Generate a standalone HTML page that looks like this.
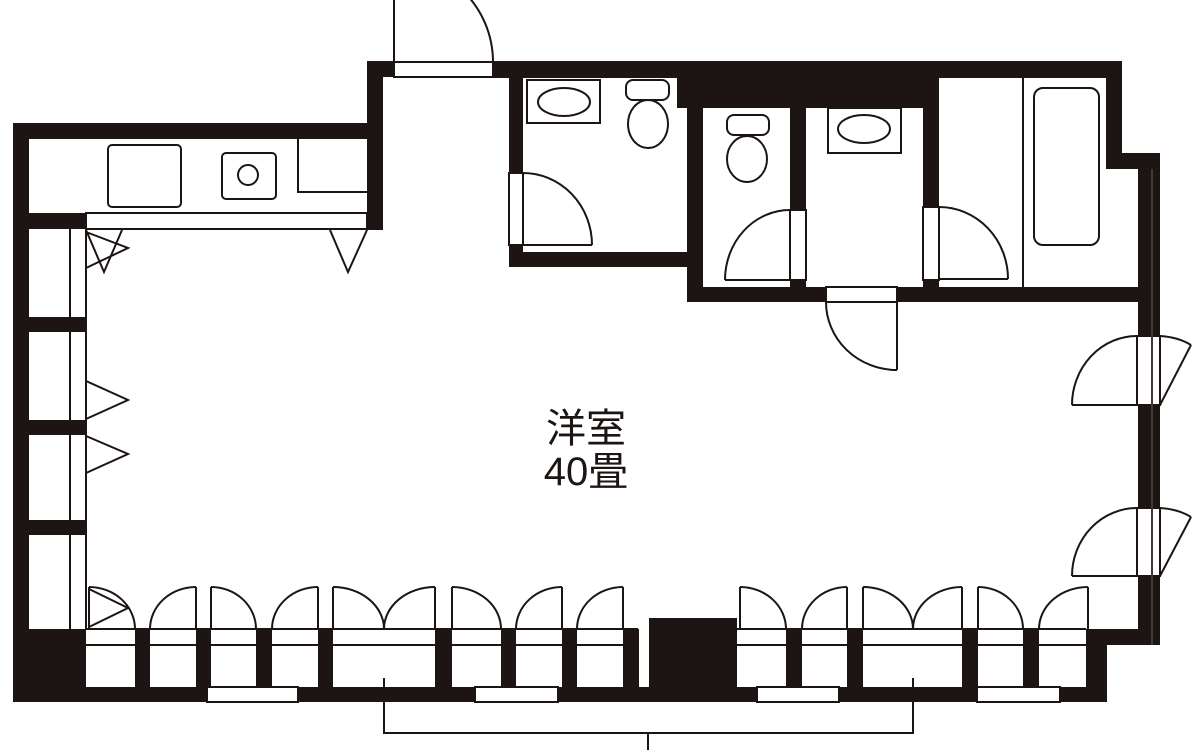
<!DOCTYPE html>
<html><head><meta charset="utf-8"><style>
html,body{margin:0;padding:0;background:#fff;width:1200px;height:750px;overflow:hidden}
</style></head><body>
<svg width="1200" height="750" viewBox="0 0 1200 750" xmlns="http://www.w3.org/2000/svg">
<g fill="#1c1513">
<rect x="13" y="123" width="16" height="579"/>
<rect x="13" y="123" width="370" height="16"/>
<rect x="367" y="61" width="16" height="169"/>
<rect x="367" y="61" width="28" height="16"/>
<rect x="493" y="61" width="629" height="17"/>
<rect x="677" y="61" width="262" height="47"/>
<rect x="509" y="61" width="14" height="206"/>
<rect x="687" y="61" width="16" height="241"/>
<rect x="509" y="252" width="194" height="15"/>
<rect x="790" y="108" width="16" height="194"/>
<rect x="923" y="108" width="16" height="194"/>
<rect x="687" y="287" width="451" height="15"/>
<rect x="1106" y="61" width="16" height="108"/>
<rect x="1106" y="153" width="54" height="16"/>
<rect x="1138" y="153" width="22" height="492"/>
<rect x="1086" y="629" width="74" height="16"/>
<rect x="1086" y="629" width="21" height="73"/>
<rect x="13" y="687" width="1094" height="15"/>
<rect x="13" y="629" width="73" height="73"/>
<rect x="649" y="618" width="88" height="84"/>
<rect x="13" y="213" width="73" height="16"/>
<rect x="13" y="317" width="73" height="15"/>
<rect x="13" y="420" width="73" height="15"/>
<rect x="13" y="520" width="73" height="15"/>
</g>
<g fill="none" stroke="#1c1513" stroke-width="2">
<line x1="86" y1="629" x2="638" y2="629"/><line x1="86" y1="645" x2="638" y2="645"/>
<line x1="737" y1="629" x2="1086" y2="629"/><line x1="737" y1="645" x2="1086" y2="645"/>
<line x1="638" y1="629" x2="638" y2="687"/>
</g>
<g fill="#1c1513">
<rect x="135" y="629" width="15" height="58"/><rect x="196" y="629" width="15" height="58"/>
<rect x="256" y="629" width="16" height="58"/><rect x="318" y="629" width="15" height="58"/>
<rect x="435" y="629" width="17" height="58"/><rect x="501" y="629" width="15" height="58"/>
<rect x="562" y="629" width="15" height="58"/><rect x="623" y="629" width="15" height="58"/>
<rect x="786" y="629" width="16" height="58"/><rect x="847" y="629" width="16" height="58"/>
<rect x="962" y="629" width="16" height="58"/><rect x="1023" y="629" width="16" height="58"/>
</g>
<g fill="#fff" stroke="#1c1513" stroke-width="2">
<rect x="394" y="62" width="99" height="15"/>
<rect x="509" y="173" width="14" height="72"/>
<rect x="790" y="210" width="16" height="70"/>
<rect x="923" y="207" width="16" height="73"/>
<rect x="826" y="287" width="71" height="15"/>
<rect x="1137" y="336" width="23" height="69"/>
<rect x="1137" y="508" width="23" height="68"/>
<rect x="207" y="687" width="91" height="15"/>
<rect x="475" y="687" width="83" height="15"/>
<rect x="757" y="687" width="82" height="15"/>
<rect x="977" y="687" width="83" height="15"/>
<rect x="86" y="213" width="281" height="16"/>
</g>
<g fill="none" stroke="#1c1513" stroke-width="2">
<line x1="1152" y1="336" x2="1152" y2="405"/><line x1="1152" y1="508" x2="1152" y2="576"/>
<line x1="1152" y1="169" x2="1152" y2="645" stroke="#6a5a55" stroke-width="1"/>
<line x1="394" y1="0" x2="394" y2="62"/>
<path d="M493 62 A99 99 0 0 0 462 -10"/>
<rect x="108" y="145" width="73" height="62" rx="4"/>
<rect x="222" y="153" width="54" height="46" rx="4"/>
<circle cx="248" cy="175" r="10"/>
<polyline points="298,139 298,192 367,192"/>
<line x1="70" y1="229" x2="70" y2="629"/><line x1="86" y1="229" x2="86" y2="629"/>
<polyline points="86,232 128,248 86,268"/>
<polyline points="122,230 104,272 86,230"/>
<polyline points="330,230 348,272 367,230"/>
<polyline points="86,381 128,400 86,419"/>
<polyline points="86,436 128,454 86,473"/>
<rect x="527" y="80" width="73" height="43"/>
<ellipse cx="564" cy="102" rx="26" ry="14"/>
<rect x="626" y="80" width="43" height="20" rx="7"/>
<ellipse cx="648" cy="124" rx="20" ry="24"/>
<line x1="523" y1="245" x2="592" y2="245"/>
<path d="M592 245 A69 72 0 0 0 523 173"/>
<rect x="727" y="115" width="42" height="20" rx="7"/>
<ellipse cx="747" cy="159" rx="20" ry="23"/>
<line x1="790" y1="280" x2="725" y2="280"/>
<path d="M725 280 A65 70 0 0 1 790 210"/>
<rect x="828" y="108" width="73" height="45"/>
<ellipse cx="864" cy="129" rx="26" ry="14"/>
<line x1="897" y1="302" x2="897" y2="370"/>
<path d="M826 302 A71 68 0 0 0 897 370"/>
<line x1="1023" y1="78" x2="1023" y2="287"/>
<rect x="1034" y="88" width="65" height="157" rx="9"/>
<line x1="939" y1="279" x2="1008" y2="279"/>
<path d="M1008 279 A69 72 0 0 0 939 207"/>
<line x1="1137" y1="405" x2="1072" y2="405"/>
<path d="M1072 405 A65 69 0 0 1 1137 336"/>
<line x1="1160" y1="405" x2="1191" y2="345"/>
<path d="M1160 336 Q1178 337 1191 345"/>
<line x1="1137" y1="576" x2="1072" y2="576"/>
<path d="M1072 576 A65 68 0 0 1 1137 508"/>
<line x1="1160" y1="576" x2="1191" y2="517"/>
<path d="M1160 508 Q1178 509 1191 517"/>
<line x1="89" y1="587" x2="89" y2="629"/>
<path d="M89 587 A46 42 0 0 1 135 629"/>
<polyline points="89,589 128,608 89,627"/>
<line x1="196" y1="587" x2="196" y2="629"/><path d="M196 587 A46 42 0 0 0 150 629"/>
<line x1="211" y1="587" x2="211" y2="629"/><path d="M211 587 A45 42 0 0 1 256 629"/>
<line x1="318" y1="587" x2="318" y2="629"/><path d="M318 587 A46 42 0 0 0 272 629"/>
<line x1="333" y1="587" x2="333" y2="629"/><path d="M333 587 A51 42 0 0 1 384 629"/>
<line x1="435" y1="587" x2="435" y2="629"/><path d="M435 587 A51 42 0 0 0 384 629"/>
<line x1="452" y1="587" x2="452" y2="629"/><path d="M452 587 A49 42 0 0 1 501 629"/>
<line x1="562" y1="587" x2="562" y2="629"/><path d="M562 587 A46 42 0 0 0 516 629"/>
<line x1="623" y1="587" x2="623" y2="629"/><path d="M623 587 A46 42 0 0 0 577 629"/>
<line x1="740" y1="587" x2="740" y2="629"/><path d="M740 587 A46 42 0 0 1 786 629"/>
<line x1="847" y1="587" x2="847" y2="629"/><path d="M847 587 A45 42 0 0 0 802 629"/>
<line x1="863" y1="587" x2="863" y2="629"/><path d="M863 587 A50 42 0 0 1 913 629"/>
<line x1="962" y1="587" x2="962" y2="629"/><path d="M962 587 A49 42 0 0 0 913 629"/>
<line x1="978" y1="587" x2="978" y2="629"/><path d="M978 587 A45 42 0 0 1 1023 629"/>
<line x1="1088" y1="587" x2="1088" y2="629"/><path d="M1088 587 A49 42 0 0 0 1039 629"/>
<polyline points="384,678 384,733 913,733 913,678"/>
<line x1="648" y1="733" x2="648" y2="750"/>
</g>
<g font-family="'Liberation Sans','Noto Sans CJK JP',sans-serif" font-size="40" fill="#1c1513" text-anchor="middle">
<text x="586" y="442">洋室</text>
<text x="586" y="485">40畳</text>
</g>
</svg>
</body></html>
